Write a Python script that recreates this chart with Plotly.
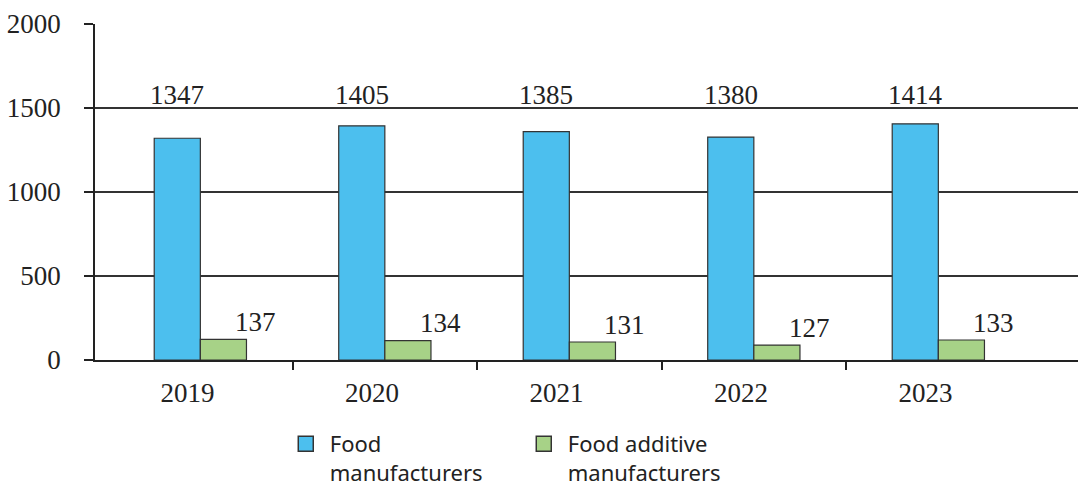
import numpy as np
import plotly.graph_objects as go

years = ["2019", "2020", "2021", "2022", "2023"]
# bar heights as drawn in the picture
food_values = [1320, 1394, 1359, 1327, 1406]
additive_values = [123, 115, 107, 89, 119]
# printed data labels
food_labels = ["1347", "1405", "1385", "1380", "1414"]
additive_labels = ["137", "134", "131", "127", "133"]
series_names = ["Food<br>manufacturers", "Food additive<br>manufacturers"]
y_ticks = [0, 500, 1000, 1500, 2000]

BLUE = "#4CBFEE"
GREEN = "#A7D287"
EDGE = "#333333"
SERIF = "Liberation Serif"
SANS = "Noto Sans"

idx = np.arange(len(years))

fig = go.Figure()
fig.add_trace(go.Bar(
    x=idx, y=food_values, name=series_names[0], showlegend=False,
    marker=dict(color=BLUE, line=dict(color=EDGE, width=1.2)),
    width=0.25, offset=-0.25,
))
fig.add_trace(go.Bar(
    x=idx, y=additive_values, name=series_names[1], showlegend=False,
    marker=dict(color=GREEN, line=dict(color=EDGE, width=1.2)),
    width=0.25, offset=0.0,
))
# legend entries with larger square keys
for name, col in zip(series_names, [BLUE, GREEN]):
    fig.add_trace(go.Scatter(
        x=[None], y=[None], mode="markers", name=name,
        marker=dict(symbol="square", size=15, color=col, line=dict(color=EDGE, width=1.5)),
    ))

annotations = []
for i, lab in enumerate(food_labels):
    annotations.append(dict(x=i - 0.125, y=1575, xref="x", yref="y", text=lab,
                            showarrow=False, font=dict(family=SERIF, size=27, color="#222"),
                            xanchor="center", yanchor="middle"))
for i, (v, lab) in enumerate(zip(additive_values, additive_labels)):
    annotations.append(dict(x=i + 0.3, y=v + 103, xref="x", yref="y", text=lab,
                            showarrow=False, font=dict(family=SERIF, size=27, color="#222"),
                            xanchor="center", yanchor="middle"))

xr = [-0.571, 4.757]
fig.update_layout(
    width=1078, height=486,
    margin=dict(l=95, r=0, t=24, b=126, autoexpand=False),
    paper_bgcolor="white", plot_bgcolor="white",
    barmode="overlay",
    showlegend=True,
    legend=dict(orientation="h", x=0.190, y=-0.1875, xanchor="left", yanchor="top",
                font=dict(family=SANS, size=22, color="#222"),
                entrywidth=185, itemwidth=38, valign="top", itemsizing="trace",
                bgcolor="rgba(0,0,0,0)"),
    annotations=annotations,
    xaxis=dict(range=xr, tickmode="array", tickvals=idx - 0.07, ticktext=years,
               ticks="", automargin=False, ticklabelstandoff=8,
               minor=dict(tickmode="array", tickvals=idx[:-1] + 0.5,
                          ticks="outside", ticklen=8, tickwidth=1.5, tickcolor="#222",
                          showgrid=False),
               tickfont=dict(family=SERIF, size=27, color="#222"),
               showgrid=False, zeroline=False, showline=True, linecolor="#222", linewidth=1.5),
    yaxis=dict(range=[0, 2000], tickmode="array", tickvals=y_ticks, automargin=False,
               ticks="outside", ticklen=9, tickwidth=1.5, tickcolor="#222",
               showgrid=True, gridcolor="#333", gridwidth=1.5,
               zeroline=False, showline=True, linecolor="#222", linewidth=1.5,
               ticklabelstandoff=18,
               tickfont=dict(family=SERIF, size=27, color="#222")),
)
fig.write_html("out.html", config={"displayModeBar": False},
               post_script="document.body.style.margin='0';document.body.style.overflow='hidden';")
